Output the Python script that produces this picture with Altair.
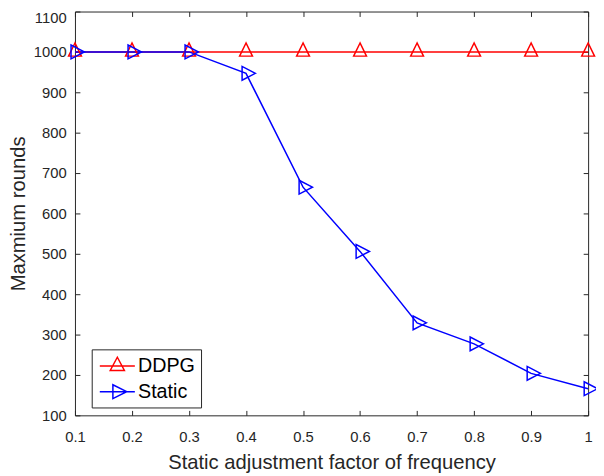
import altair as alt
import pandas as pd

x_vals = [0.1, 0.2, 0.3, 0.4, 0.5, 0.6, 0.7, 0.8, 0.9, 1.0]
ddpg_vals = [1000, 1000, 1000, 1000, 1000, 1000, 1000, 1000, 1000, 1000]
static_vals = [1000, 1000, 1000, 947, 665, 506, 329, 277, 204, 166]
series_names = ["DDPG", "Static"]
series_colors = ["#FF0000", "#0000FF"]
x_ticks = [0.1, 0.2, 0.3, 0.4, 0.5, 0.6, 0.7, 0.8, 0.9, 1.0]
y_ticks = [100, 200, 300, 400, 500, 600, 700, 800, 900, 1000, 1100]

rows = []
for name, vals in zip(series_names, [ddpg_vals, static_vals]):
    for xv, yv in zip(x_vals, vals):
        rows.append({"x": xv, "y": yv, "series": name})
df = pd.DataFrame(rows)

# marker outlines (unit paths, scaled by sqrt(size)/2)
UP = "M0,-1.29L-0.93,0.61L0.93,0.61Z"
RIGHT = "M1.36,0L-0.57,-1L-0.57,1Z"
LEG_UP = "M-1.78,0L1.78,0M0,-0.9L-0.72,0.44L0.72,0.44Z"
LEG_RIGHT = "M-1.78,0L1.78,0M0.95,0L-0.45,-0.7L-0.45,0.7Z"

FONT = "Liberation Sans"
AX = "#262626"

xscale = alt.Scale(domain=[0.1, 1.0], nice=False, zero=False)
yscale = alt.Scale(domain=[100, 1100], nice=False, zero=False)
cscale = alt.Scale(domain=series_names, range=series_colors)
sscale = alt.Scale(domain=series_names, range=[UP, RIGHT])
lscale = alt.Scale(domain=series_names, range=[LEG_UP, LEG_RIGHT])

common_axis = dict(grid=False, domain=False, offset=-5, tickSize=5, tickColor=AX,
                   tickWidth=1, labelFont=FONT, labelFontSize=15, labelColor=AX,
                   labelFlush=False, titleFont=FONT, titleFontSize=20.5,
                   titleColor=AX, titleFontWeight="normal")

x_bottom = alt.Axis(orient="bottom", values=x_ticks, format="~g", labelPadding=15,
                    title="Static adjustment factor of frequency", titlePadding=8,
                    **common_axis)
y_left = alt.Axis(orient="left", values=y_ticks, format="d", labelPadding=9,
                  labelOffset={"condition": {"test": "datum.value == 1100", "value": 6},
                               "value": 0},
                  title="Maxmium rounds", titlePadding=5, **common_axis)
x_top = alt.Axis(orient="top", values=x_ticks, labels=False, title=None, **common_axis)
y_right = alt.Axis(orient="right", values=y_ticks, labels=False, title=None, **common_axis)

base = alt.Chart(df)

lines = base.mark_line(strokeWidth=1.5).encode(
    x=alt.X("x:Q", scale=xscale, axis=x_top),
    y=alt.Y("y:Q", scale=yscale, axis=y_right),
    color=alt.Color("series:N", scale=cscale, legend=None),
)

points = base.mark_point(filled=False, size=196, strokeWidth=1.5, opacity=1).encode(
    x=alt.X("x:Q", scale=xscale, axis=x_bottom),
    y=alt.Y("y:Q", scale=yscale, axis=y_left),
    color=alt.Color("series:N", scale=cscale, legend=None),
    shape=alt.Shape("series:N", scale=sscale, legend=None),
)

legend_spec = alt.Legend(
    title=None, orient="none", legendX=17, legendY=343,
    labelFont=FONT, labelFontSize=20, labelColor="#000000",
    symbolSize=400, symbolStrokeWidth=1.5, symbolFillColor="transparent",
    symbolOpacity=1, symbolOffset=9, labelOffset=10, rowPadding=5, padding=6,
    strokeColor=AX, fillColor="#FFFFFF",
)

legend_layer = base.transform_filter("false").mark_point(
    filled=False, strokeWidth=1.5, opacity=1
).encode(
    x=alt.X("x:Q", scale=xscale, axis=None),
    y=alt.Y("y:Q", scale=yscale, axis=None),
    color=alt.Color("series:N", scale=cscale, legend=legend_spec),
    shape=alt.Shape("series:N", scale=lscale, legend=legend_spec),
)

chart = (
    alt.layer(lines, points, legend_layer)
    .resolve_axis(x="independent", y="independent")
    .resolve_scale(shape="independent", color="independent")
    .properties(
        width=521, height=410,
        autosize=alt.AutoSizeParams(type="none"),
        padding={"left": 68, "top": 0, "right": 8, "bottom": 58},
        background="#FFFFFF",
    )
    .configure_view(stroke=AX, strokeWidth=1)
    .configure_legend(strokeWidth=1)
)

chart.save("out.html", embed_options={"renderer": "svg", "actions": False})
